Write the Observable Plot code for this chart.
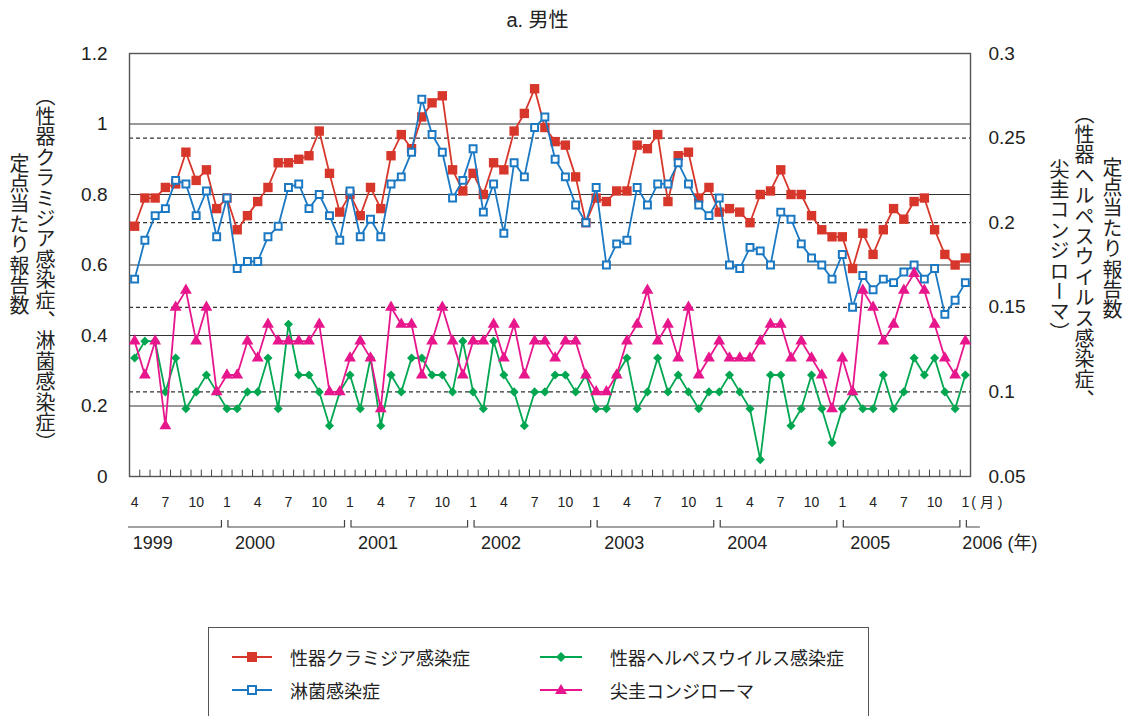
<!DOCTYPE html>
<html>
<head>
<meta charset="utf-8">
<script src="https://cdn.jsdelivr.net/npm/d3@7"></script>
<script src="https://cdn.jsdelivr.net/npm/@observablehq/plot@0.6"></script>
<style>
  body { margin: 0; background: #fff; }
  #wrap { position: relative; width: 1128px; height: 716px; overflow: hidden;
          font-family: "Liberation Sans", Arial, "Noto Sans CJK JP", sans-serif; color: #222; }
  #chart { position: absolute; left: 0; top: 0; }
  .title { position: absolute; z-index: 2; left: 0; width: 1075px; top: 4px; text-align: center; font-size: 20px; }
  .vt { position: absolute; z-index: 2; writing-mode: vertical-rl; font-family: "Noto Sans CJK JP", sans-serif;
        font-size: 20px; letter-spacing: 0.4px; line-height: 1; white-space: nowrap; color: #222; }
  .legend { position: absolute; left: 208px; top: 627px; width: 659px; height: 110px; border: 1px solid #555; }
  .item { position: absolute; font-family: "Noto Sans CJK JP", sans-serif; font-size: 18px; line-height: 22px; }
  .sym { position: absolute; }
</style>
</head>
<body>
<div id="wrap">
  <div class="title">a. 男性</div>
  <div id="chart"></div>

  <div class="vt" style="left:9px; top:153px;">定点当たり報告数</div>
  <div class="vt" style="left:35px; top:86px;">（性器クラミジア感染症、淋菌感染症）</div>
  <div class="vt" style="left:1102px; top:157px;">定点当たり報告数</div>
  <div class="vt" style="left:1074px; top:104px;">（性器ヘルペスウイルス感染症、</div>
  <div class="vt" style="left:1049px; top:159px;">尖圭コンジローマ）</div>

  <div class="legend"></div>
  <svg class="sym" style="left:230px; top:648px;" width="44" height="18">
    <line x1="2" x2="42" y1="9" y2="9" stroke="#d7372b" stroke-width="2"/>
    <rect x="17" y="4" width="10" height="10" fill="#d7372b"/>
  </svg>
  <div class="item" style="left:290px; top:646px;">性器クラミジア感染症</div>
  <svg class="sym" style="left:230px; top:681px;" width="44" height="18">
    <line x1="2" x2="42" y1="9" y2="9" stroke="#1b78c2" stroke-width="2"/>
    <rect x="18" y="5" width="8" height="8" fill="#fff" stroke="#1b78c2" stroke-width="2"/>
  </svg>
  <div class="item" style="left:290px; top:679px;">淋菌感染症</div>
  <svg class="sym" style="left:538px; top:648px;" width="46" height="18">
    <line x1="2" x2="44" y1="9" y2="9" stroke="#00a650" stroke-width="2"/>
    <path d="M23 4 L28 9 L23 14 L18 9 Z" fill="#00a650"/>
  </svg>
  <div class="item" style="left:610px; top:646px;">性器ヘルペスウイルス感染症</div>
  <svg class="sym" style="left:538px; top:681px;" width="46" height="18">
    <line x1="2" x2="44" y1="9" y2="9" stroke="#e8168c" stroke-width="2"/>
    <path d="M23 3 L29 13 L17 13 Z" fill="#e8168c"/>
  </svg>
  <div class="item" style="left:610px; top:679px;">尖圭コンジローマ</div>
</div>

<script>
// months: April 1999 .. January 2006
const months = d3.utcMonths(new Date(Date.UTC(1999, 3, 1)), new Date(Date.UTC(2006, 0, 2)));

// left axis series (per sentinel site)
const chlamydia = [
  0.71, 0.79, 0.79, 0.82, 0.83, 0.92, 0.84, 0.87, 0.76, 0.79,
  0.70, 0.74, 0.78, 0.82, 0.89, 0.89, 0.90, 0.91, 0.98, 0.86,
  0.75, 0.80, 0.74, 0.82, 0.76, 0.91, 0.97, 0.93, 1.02, 1.06,
  1.08, 0.87, 0.81, 0.86, 0.80, 0.89, 0.87, 0.98, 1.03, 1.10,
  0.99, 0.95, 0.94, 0.85, 0.72, 0.79, 0.78, 0.81, 0.81, 0.94,
  0.93, 0.97, 0.78, 0.91, 0.92, 0.79, 0.82, 0.75, 0.76, 0.75,
  0.72, 0.80, 0.81, 0.87, 0.80, 0.80, 0.74, 0.70, 0.68, 0.68,
  0.59, 0.69, 0.63, 0.70, 0.76, 0.73, 0.78, 0.79, 0.70, 0.63,
  0.60, 0.62
];
const gonorrhea = [
  0.56, 0.67, 0.74, 0.76, 0.84, 0.83, 0.74, 0.81, 0.68, 0.79,
  0.59, 0.61, 0.61, 0.68, 0.71, 0.82, 0.83, 0.76, 0.80, 0.74,
  0.67, 0.81, 0.68, 0.73, 0.68, 0.83, 0.85, 0.92, 1.07, 0.97,
  0.92, 0.79, 0.84, 0.93, 0.75, 0.83, 0.69, 0.89, 0.85, 0.99,
  1.02, 0.90, 0.85, 0.77, 0.72, 0.82, 0.60, 0.66, 0.67, 0.82,
  0.77, 0.83, 0.83, 0.89, 0.83, 0.77, 0.74, 0.79, 0.60, 0.59,
  0.65, 0.64, 0.60, 0.75, 0.73, 0.66, 0.62, 0.60, 0.56, 0.63,
  0.48, 0.57, 0.53, 0.56, 0.55, 0.58, 0.60, 0.56, 0.59, 0.46,
  0.50, 0.55
];
// right axis series
const herpes = [
  0.12, 0.13, 0.13, 0.10, 0.12, 0.09, 0.10, 0.11, 0.10, 0.09,
  0.09, 0.10, 0.10, 0.12, 0.09, 0.14, 0.11, 0.11, 0.10, 0.08,
  0.10, 0.11, 0.09, 0.12, 0.08, 0.11, 0.10, 0.12, 0.12, 0.11,
  0.11, 0.10, 0.13, 0.10, 0.09, 0.13, 0.11, 0.10, 0.08, 0.10,
  0.10, 0.11, 0.11, 0.10, 0.11, 0.09, 0.09, 0.11, 0.12, 0.09,
  0.10, 0.12, 0.10, 0.11, 0.10, 0.09, 0.10, 0.10, 0.11, 0.10,
  0.09, 0.06, 0.11, 0.11, 0.08, 0.09, 0.11, 0.09, 0.07, 0.09,
  0.10, 0.09, 0.09, 0.11, 0.09, 0.10, 0.12, 0.11, 0.12, 0.10,
  0.09, 0.11
];
const condyloma = [
  0.13, 0.11, 0.13, 0.08, 0.15, 0.16, 0.13, 0.15, 0.10, 0.11,
  0.11, 0.13, 0.12, 0.14, 0.13, 0.13, 0.13, 0.13, 0.14, 0.10,
  0.10, 0.12, 0.13, 0.12, 0.09, 0.15, 0.14, 0.14, 0.11, 0.13,
  0.15, 0.13, 0.11, 0.13, 0.13, 0.14, 0.12, 0.14, 0.11, 0.13,
  0.13, 0.12, 0.13, 0.13, 0.11, 0.10, 0.10, 0.11, 0.13, 0.14,
  0.16, 0.13, 0.14, 0.12, 0.15, 0.11, 0.12, 0.13, 0.12, 0.12,
  0.12, 0.13, 0.14, 0.14, 0.12, 0.13, 0.12, 0.11, 0.09, 0.12,
  0.10, 0.16, 0.15, 0.13, 0.14, 0.16, 0.17, 0.16, 0.14, 0.12,
  0.11, 0.13
];

const leftTicks = [0, 0.2, 0.4, 0.6, 0.8, 1, 1.2];
const rightTicks = [0.05, 0.1, 0.15, 0.2, 0.25, 0.3];
const years = [2000, 2001, 2002, 2003, 2004, 2005];

// right axis 0.05..0.3 shares the frame with left axis 0..1.2
const toLeft = v => (v - 0.05) * 1.2 / 0.25;
const fromLeft = v => +(v * 0.25 / 1.2 + 0.05).toFixed(3);

const rows = (vals, f = v => v) => vals.map((v, i) => ({i, v: f(v)}));
const red = rows(chlamydia), blue = rows(gonorrhea);
const green = rows(herpes, toLeft), pink = rows(condyloma, toLeft);

const monthLabels = months.map((d, i) => ({i, m: d.getUTCMonth() + 1}))
  .filter(d => [1, 4, 7, 10].includes(d.m));
const janIndex = y => months.findIndex(d => d.getUTCFullYear() === y && d.getUTCMonth() === 0);
const yearLabels = years.map(y => ({i: janIndex(y), label: String(y)}));
const last = months.length - 1;

const fmt = d3.format("~g");

const chart = Plot.plot({
  width: 1128,
  height: 570,
  marginLeft: 129,
  marginRight: 158,
  marginTop: 53,
  marginBottom: 94,
  x: {domain: [-0.5, last + 0.5], axis: null},
  y: {domain: [0, 1.2], axis: null},
  style: {fontFamily: '"Liberation Sans", Arial, "Noto Sans CJK JP", sans-serif', color: "#222", background: "white"},
  marks: [
    Plot.ruleY(leftTicks.slice(1, -1), {stroke: "#333", strokeWidth: 1.2}),
    Plot.ruleY(rightTicks.slice(1, -1).map(toLeft), {stroke: "#333", strokeWidth: 1.2, strokeDasharray: "4,3"}),
    Plot.frame({stroke: "#555", strokeWidth: 1.4}),
    Plot.ruleX(d3.range(0.5, last, 1), {y1: 0, y2: 0.018, stroke: "#444"}),
    Plot.axisY({ticks: leftTicks, anchor: "left", tickSize: 0, tickPadding: 22, tickFormat: fmt, label: null, fontSize: 19}),
    Plot.axisY({ticks: rightTicks.map(toLeft), anchor: "right", tickSize: 0, tickPadding: 18,
      tickFormat: d => fmt(fromLeft(d)), label: null, fontSize: 19}),

    // month / year labels under the axis
    Plot.text(monthLabels, {x: "i", text: "m", frameAnchor: "bottom", dy: 30, fontSize: 14}),
    Plot.text(["( 月 )"], {x: last, text: d => d, frameAnchor: "bottom", dy: 30, dx: 6, textAnchor: "start", fontSize: 14}),
    Plot.text(["1999"], {x: 0, text: d => d, frameAnchor: "bottom", dy: 72, dx: -2, textAnchor: "start", fontSize: 18}),
    Plot.text(yearLabels, {x: "i", text: "label", frameAnchor: "bottom", dy: 72, dx: 8, textAnchor: "start", fontSize: 18}),
    Plot.text(["2006 (年)"], {x: last, text: d => d, frameAnchor: "bottom", dy: 72, dx: -3, textAnchor: "start", fontSize: 18}),

    // series
    Plot.line(red, {x: "i", y: "v", stroke: "#d7372b", strokeWidth: 1.8}),
    Plot.dot(red, {x: "i", y: "v", symbol: "square", r: 5.3, fill: "#d7372b"}),
    Plot.line(blue, {x: "i", y: "v", stroke: "#1b78c2", strokeWidth: 1.8}),
    Plot.dot(blue, {x: "i", y: "v", symbol: "square", r: 3.9, fill: "white", stroke: "#1b78c2", strokeWidth: 2}),
    Plot.line(green, {x: "i", y: "v", stroke: "#00a650", strokeWidth: 1.8}),
    Plot.dot(green, {x: "i", y: "v", symbol: "diamond2", r: 4.1, fill: "#00a650"}),
    Plot.line(pink, {x: "i", y: "v", stroke: "#e8168c", strokeWidth: 1.8}),
    Plot.dot(pink, {x: "i", y: "v", symbol: "triangle", r: 4.4, fill: "#e8168c"})
  ]
});

// year brackets below the month labels
const sx = chart.scale("x").apply;
const by = 527, bt = 520;
const bracket = d3.select(chart).append("g")
  .attr("fill", "none").attr("stroke", "#444").attr("stroke-width", 1.2);
[1999, ...years, 2006].forEach(y => {
  const j0 = y === 1999 ? null : janIndex(y);
  const j1 = y === 2006 ? null : janIndex(y + 1);
  const x0 = j0 === null ? sx(-0.5) - 1 : sx(j0) + 1.5;
  const x1 = j1 === null ? sx(last) + 15 : sx(j1) - 5;
  let p = j0 === null ? `M${x0},${by}` : `M${x0},${bt}V${by}`;
  p += `H${x1}`;
  if (j1 !== null) p += `V${bt}`;
  bracket.append("path").attr("d", p);
});

d3.select("#chart").append(() => chart);
</script>
</body>
</html>
